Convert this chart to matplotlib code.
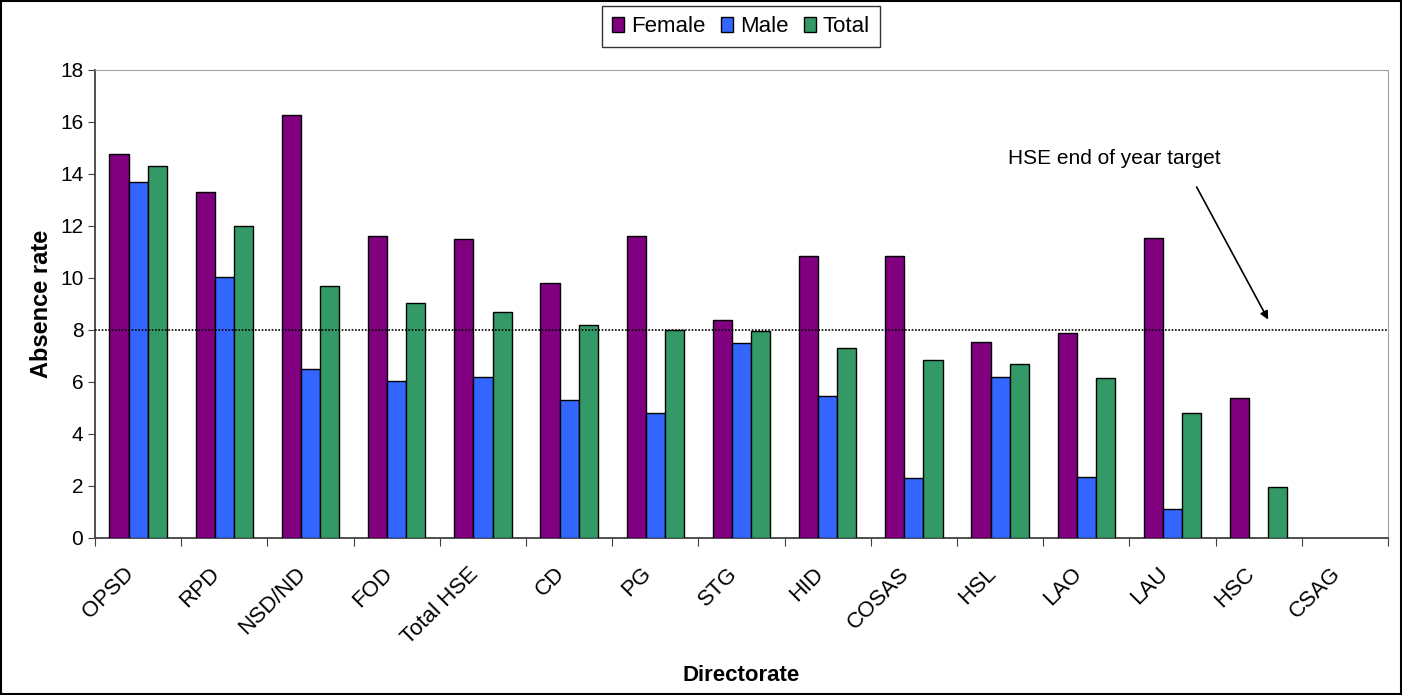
import numpy as np
import matplotlib
matplotlib.use('Agg')
import matplotlib.pyplot as plt
import matplotlib.transforms as mtransforms
from matplotlib.patches import Rectangle

plt.rcParams['font.family'] = ['Liberation Sans', 'DejaVu Sans']

directorates = ['OPSD', 'RPD', 'NSD/ND', 'FOD', 'Total HSE', 'CD', 'PG', 'STG',
                'HID', 'COSAS', 'HSL', 'LAO', 'LAU', 'HSC', 'CSAG']
female = [14.75, 13.3, 16.25, 11.6, 11.5, 9.8, 11.6, 8.4, 10.85, 10.85, 7.55, 7.9, 11.55, 5.4, 0]
male = [13.7, 10.05, 6.5, 6.05, 6.2, 5.3, 4.8, 7.5, 5.45, 2.3, 6.2, 2.35, 1.1, 0, 0]
total = [14.3, 12.0, 9.7, 9.05, 8.7, 8.2, 8.0, 7.95, 7.3, 6.85, 6.7, 6.15, 4.8, 1.95, 0]
target = 8

fig = plt.figure(figsize=(14.02, 6.95), dpi=100)
ax = fig.add_axes([0.0678, 0.2259, 0.9222, 0.6734])

x = np.arange(len(directorates))
w = 1 / 4.5
series = [('Female', female, '#800080'), ('Male', male, '#3366FF'), ('Total', total, '#339966')]
for i, (name, vals, col) in enumerate(series):
    vals = np.array(vals, dtype=float)
    h = np.where(vals > 0, vals, np.nan)
    ax.bar(x + (i - 1) * w, h, w, color=col, edgecolor='black', linewidth=1.0, label=name, zorder=3)

ax.axhline(target, color='black', linestyle=(0, (1, 1)), linewidth=1.2, zorder=4)

ax.set_xlim(-0.5, len(directorates) - 0.5)
ax.set_ylim(0, 18)
ax.set_yticks(np.arange(0, 19, 2))
ax.set_xticks(np.arange(-0.5, len(directorates), 1.0))
ax.set_xticklabels([])
ax.set_xticks(x, minor=True)
ax.set_xticklabels(directorates, minor=True, rotation=45, ha='right', rotation_mode='anchor', fontsize=16)
ax.tick_params(axis='x', which='minor', length=0, pad=16)
ax.tick_params(axis='x', which='major', length=6, direction='out', color='#404040')
ax.tick_params(axis='y', length=5, direction='out', labelsize=15, color='#404040')

# shift rotated labels so their ends sit just left of the category centre
offset = mtransforms.ScaledTranslation(-0.15, -0.03, fig.dpi_scale_trans)
for lbl in ax.get_xticklabels(minor=True):
    lbl.set_transform(lbl.get_transform() + offset)

for s in ['top', 'right']:
    ax.spines[s].set_color('#a0a0a0')
for s in ['left', 'bottom']:
    ax.spines[s].set_color('#404040')
    ax.spines[s].set_linewidth(1.3)

ax.set_ylabel('Absence rate', fontsize=17, fontweight='bold', labelpad=5)
fig.text(0.5285, 0.028, 'Directorate', fontsize=16, fontweight='bold', ha='center', va='center')

ax.annotate('', xy=(13.11, 8.4), xytext=(12.28, 13.5),
            arrowprops=dict(arrowstyle='-|>', color='black', lw=1.2, mutation_scale=12,
                            shrinkA=0, shrinkB=0))
ax.text(11.32, 14.6, 'HSE end of year target', fontsize=15, ha='center', va='center')

leg = fig.legend(loc='upper center', bbox_to_anchor=(0.5285, 0.991), ncol=3, fontsize=16,
                 frameon=True, fancybox=False, edgecolor='black', handlelength=0.55,
                 handleheight=0.7, handletextpad=0.3, columnspacing=0.7, borderpad=0.45,
                 borderaxespad=0)
leg.get_frame().set_linewidth(1.0)

fig.patches.append(Rectangle((0.001, 0.001), 0.998, 0.997, transform=fig.transFigure,
                             fill=False, edgecolor='black', linewidth=1.5))

fig.savefig('out.png', dpi=100)
